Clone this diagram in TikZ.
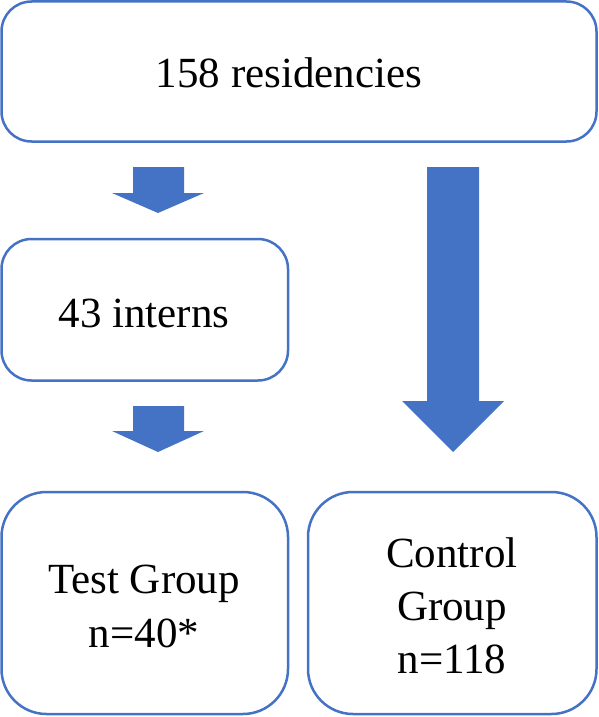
\documentclass[tikz,border=0pt]{standalone}
\usepackage{fontspec}
\setmainfont{Liberation Serif}
\definecolor{obl}{HTML}{4472C4}
\begin{document}
\begin{tikzpicture}[x=1pt,y=-1pt,
  boxa/.style={draw=obl,line width=2.5pt,rounded corners=30pt},
  boxb/.style={draw=obl,line width=2.5pt,rounded corners=45pt},
  lbl/.style={anchor=base,font=\fontsize{43}{53}\selectfont,inner sep=0pt},
  blk/.style={fill=obl,draw=none}]
\useasboundingbox (0,0) rectangle (598,717);
\draw[boxa] (1.5,1.5) rectangle (596.5,141.5);
\draw[boxa] (1.5,239) rectangle (288,380.5);
\draw[boxb] (1.5,492) rectangle (288,714);
\draw[boxb] (308,492) rectangle (596.5,714);
\node[lbl] (t1) at (289,88) {158 residencies};
\node[lbl] (t2) at (144,327) {43 interns};
\node[lbl] (t3a) at (144,593) {Test Group};
\node[lbl] (t3b) at (144,647) {n=40*};
\node[lbl] (t4a) at (452,567) {Control};
\node[lbl] (t4b) at (452,620) {Group};
\node[lbl] (t4c) at (452,673) {n=118};
% block arrows
\fill[blk] (133,167) -- (184,167) -- (184,193) -- (204,193) -- (158,213) -- (112,193) -- (133,193) -- cycle;
\fill[blk] (427,167) -- (479,167) -- (479,401) -- (504,401) -- (453,452) -- (402,401) -- (427,401) -- cycle;
\fill[blk] (133,406) -- (184,406) -- (184,431) -- (204,431) -- (158,452) -- (112,431) -- (133,431) -- cycle;
\end{tikzpicture}
\end{document}
